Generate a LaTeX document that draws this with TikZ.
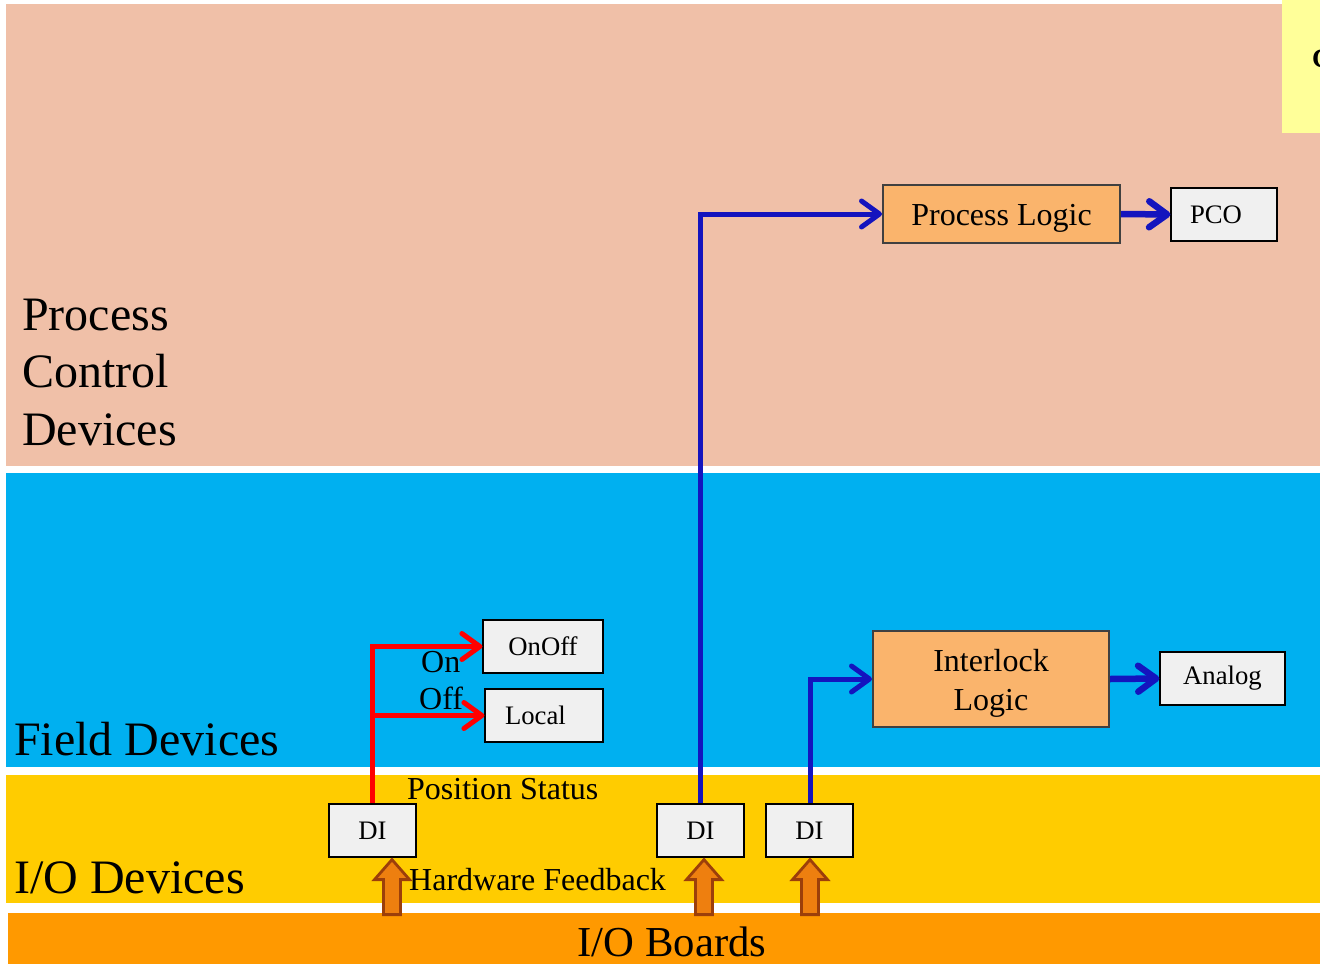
\documentclass[tikz,border=0pt]{standalone}
\usepackage{fontspec}
\setmainfont{Liberation Serif}
\usetikzlibrary{arrows.meta,calc}
\definecolor{pcdband}{HTML}{F0C0A8}
\definecolor{fieldband}{HTML}{00B0F0}
\definecolor{ioband}{HTML}{FFCC00}
\definecolor{boardband}{HTML}{FF9900}
\definecolor{notecolor}{HTML}{FFFF99}
\definecolor{logicfill}{HTML}{FAB46C}
\definecolor{logicedge}{HTML}{404040}
\definecolor{boxgray}{HTML}{F0F0F0}
\definecolor{sigblue}{HTML}{1414BE}
\definecolor{sigred}{HTML}{FF0000}
\definecolor{feedfill}{HTML}{EE7F0F}
\definecolor{feededge}{HTML}{9C3F0A}
\begin{document}
\begin{tikzpicture}[x=1pt,y=-1pt,
  bandlabel/.style={inner sep=0, anchor=base west, font=\fontsize{48}{57.5}\selectfont, align=left},
  smallbox/.style={draw=black, line width=1.2, fill=boxgray, inner sep=0,
    minimum height=53, font=\fontsize{26.7}{32}\selectfont},
  logicbox/.style={draw=logicedge, line width=2, fill=logicfill, inner sep=0,
    align=center, text depth=0pt, font=\fontsize{32}{38.4}\selectfont},
  sigtext/.style={inner sep=0, anchor=base west, font=\fontsize{32}{38.4}\selectfont},
  tip/.style={-{Straight Barb[length=18pt,width=26pt,round]}},
  redline/.style={draw=sigred, line width=5, tip},
  blueline/.style={draw=sigblue, line width=5, tip},
  bluethick/.style={draw=sigblue, line width=6.5, tip},
  feed/.style={fill=feedfill, draw=feededge, line width=2.8, line join=miter}
]
\useasboundingbox (0,0) rectangle (1320,964);
\fill[white] (0,0) rectangle (1320,964);

% layer bands
\fill[pcdband] (6,4) rectangle (1320,466);
\fill[fieldband] (6,473) rectangle (1320,767);
\fill[ioband] (6,775) rectangle (1320,903);
\fill[boardband] (8,913) rectangle (1320,964);
\fill[notecolor] (1282,0) rectangle (1320,133);
\node[inner sep=0, anchor=base west, font=\fontsize{26.7}{32}\selectfont\bfseries] (notetext) at (1312,67) {C};

% layer names
\node[bandlabel] (pcdlabel) at (22,445) {Process\\Control\\Devices};
\node[bandlabel] (fieldlabel) at (14,755) {Field Devices};
\node[bandlabel] (iolabel) at (14,893) {I/O Devices};
\node[inner sep=0, anchor=base, font=\fontsize{42.7}{51}\selectfont] (boardlabel) at (672,956) {I/O Boards};

% function blocks
\node[logicbox, minimum width=237, minimum height=58, text height=22pt] (plogic) at (1001.5,214) {Process Logic};
\node[smallbox, minimum width=106, text width=68, inner xsep=19, align=left] (pco) at (1224,214.5) {PCO};
\node[logicbox, minimum width=236, minimum height=96, text height=62pt] (interlock) at (991,679) {Interlock\\Logic};
\node[smallbox, minimum width=125] (analog) at (1222.5,678.5) {Analog};
\node[smallbox, minimum width=120] (onoff) at (543,646.5) {OnOff};
\node[smallbox, minimum width=118, text width=78, inner xsep=20, align=left] (local) at (544,715.5) {Local};
\node[smallbox, minimum width=87] (di1) at (372.5,830.5) {DI};
\node[smallbox, minimum width=87] (di2) at (700.5,830.5) {DI};
\node[smallbox, minimum width=87] (di3) at (809.5,830.5) {DI};

% signal labels
\node[sigtext] (onlabel) at (421,672) {On};
\node[sigtext] (offlabel) at (419,709) {Off};
\node[sigtext] (poslabel) at (407,799) {Position Status};
\node[sigtext] (hwlabel) at (409,890) {Hardware Feedback};

% position status signals
\draw[redline] ([xshift=-0.5pt]di1.north) |- (onoff.west);
\draw[redline] ([xshift=-0.5pt]di1.north |- local.west) -- (local.west);

% digital inputs to logic
\draw[blueline] ([xshift=-0.5pt]di2.north) |- (plogic.west);
\draw[blueline] ([xshift=0.5pt]di3.north) |- (interlock.west);
\draw[bluethick] (plogic.east) -- (pco.west);
\draw[bluethick] (interlock.east) -- (analog.west);

% hardware feedback from the I/O boards
\foreach \di/\dx in {di1/19.5, di2/3.5, di3/0.5} {
  \coordinate (ftip) at ([xshift=\dx pt, yshift=-2pt]\di.south);
  \draw[feed] (ftip) -- ++(17.5,20) -- ++(-9,0) -- ++(0,35) -- ++(-17,0)
    -- ++(0,-35) -- ++(-9,0) -- cycle;
}
\end{tikzpicture}
\end{document}
